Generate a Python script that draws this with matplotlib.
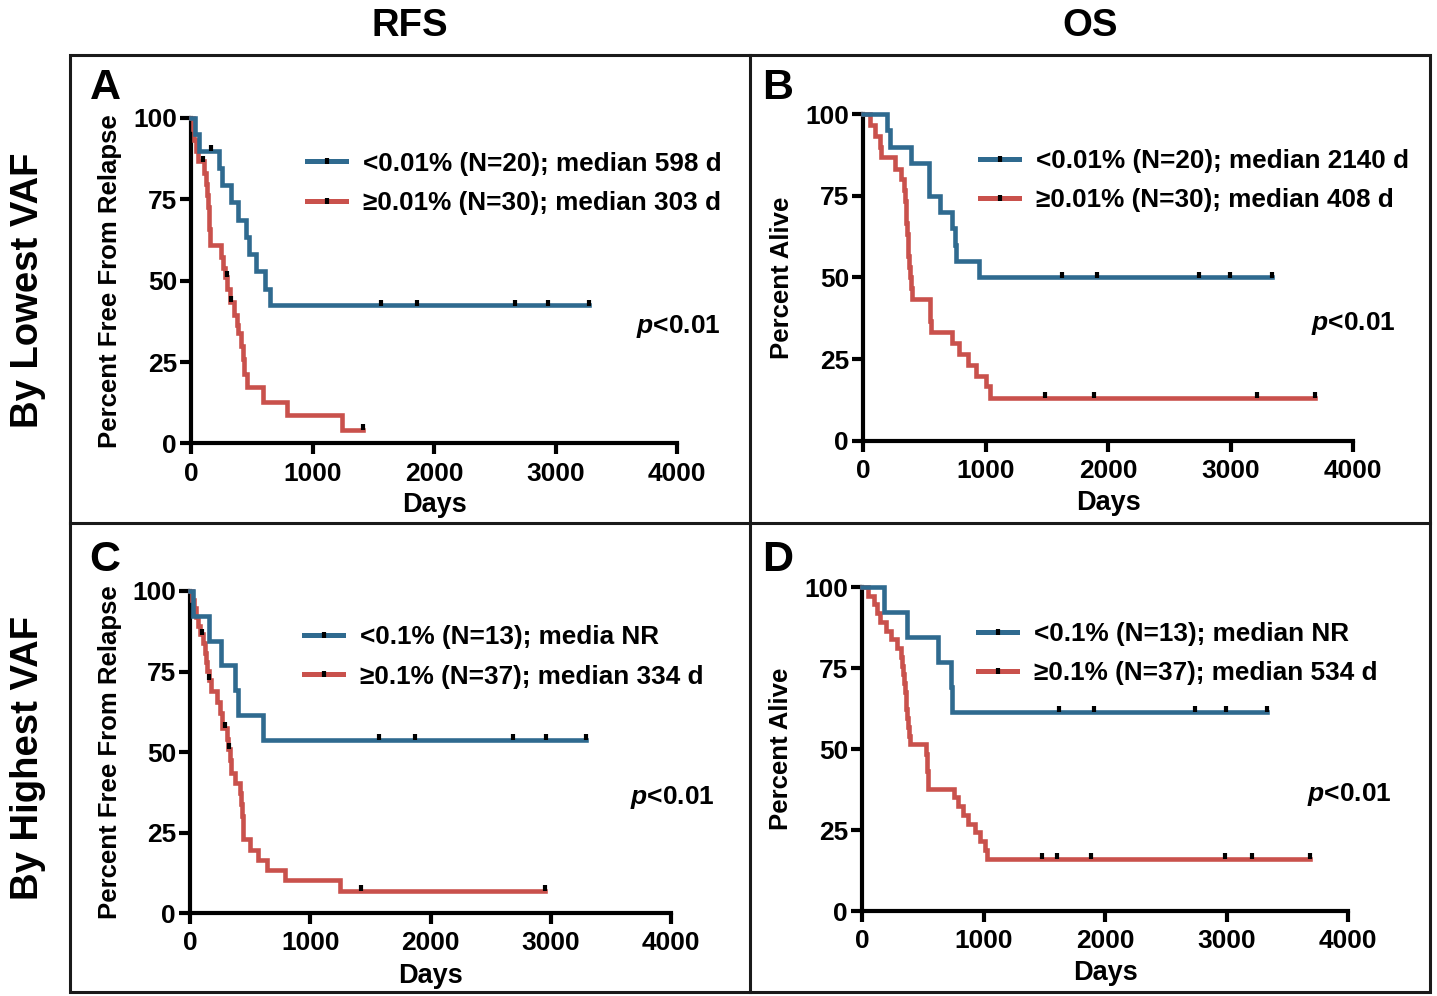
import numpy as np
import matplotlib
matplotlib.use('Agg')
import matplotlib.pyplot as plt
from matplotlib.lines import Line2D
from matplotlib.patches import Rectangle

plt.rcParams['font.family'] = ['Liberation Sans', 'DejaVu Sans']
plt.rcParams['font.weight'] = 'bold'
plt.rcParams['axes.labelweight'] = 'bold'
plt.rcParams['mathtext.fontset'] = 'custom'
plt.rcParams['mathtext.it'] = 'Liberation Sans:italic:bold'
plt.rcParams['mathtext.rm'] = 'Liberation Sans:bold'

BLUE = '#2f6a8f'
RED = '#c9514c'

# --- data (days, percent) ---
# A: RFS by lowest VAF
a_lo_t = [30, 62, 231, 256, 331, 388, 456, 477, 538, 607, 648]
a_lo_s = [95.0, 90.0, 84.7, 79.4, 74.1, 68.8, 63.5, 58.2, 52.9, 47.6, 42.4]
a_lo_cens = [161, 1564, 1858, 2670, 2940, 3275]
a_hi_t = [15, 25, 40, 60, 110, 120, 130, 138, 145, 150, 159, 245, 262, 280, 300, 318,
          357, 375, 390, 412, 425, 439, 458, 595, 787, 1240]
a_hi_s = [96.7, 93.3, 90.0, 86.7, 83.2, 79.7, 76.3, 72.8, 69.3, 65.9, 61.0, 57.2, 54.0,
          51.2, 47.5, 43.5, 39.5, 36.5, 34.0, 30.0, 26.0, 21.5, 17.4, 12.8, 8.7, 4.3]
a_hi_cens = [101, 294, 329, 1418]

# B: OS by lowest VAF
b_lo_t = [195, 219, 390, 538, 542, 625, 730, 752, 760, 950]
b_lo_s = [95, 90, 85, 80, 75, 70, 65, 60, 55, 50]
b_lo_cens = [1622, 1913, 2746, 2996, 3336]
b_hi_t = [57, 100, 138, 150, 260, 308, 335, 341, 347, 353, 359, 365, 371, 377, 383, 390,
          400, 545, 548, 552, 730, 784, 858, 926, 1001, 1036]
b_hi_s = [96.7, 93.3, 90.0, 86.7, 83.3, 80.0, 76.7, 73.3, 70.0, 66.7, 63.3, 60.0, 56.7,
          53.3, 50.0, 46.7, 43.3, 40.0, 36.7, 33.3, 30.0, 26.7, 23.3, 20.0, 16.7, 13.3]
b_hi_cens = [1486, 1888, 3214, 3690]

# C: RFS by highest VAF
c_lo_t = [23, 159, 260, 374, 399, 603]
c_lo_s = [92.3, 84.6, 76.9, 69.2, 61.5, 53.8]
c_lo_cens = [1574, 1874, 2689, 2960, 3293]
c_hi_t = [20, 35, 50, 70, 85, 110, 125, 135, 145, 155, 175, 222, 249, 265, 305, 315,
          335, 345, 374, 416, 425, 432, 438, 444, 499, 568, 638, 790, 1247]
c_hi_s = [97.3, 94.6, 91.9, 89.2, 86.5, 83.7, 80.9, 78.1, 75.3, 72.5, 69.0, 65.5, 62.0,
          57.5, 54.0, 51.0, 47.4, 43.5, 40.4, 37.3, 33.7, 30.0, 26.5, 23.0, 19.7, 16.6,
          13.5, 10.4, 6.9]
c_hi_cens = [100, 160, 291, 327, 1422, 2955]

# D: OS by highest VAF
d_lo_t = [183, 372, 625, 736, 740]
d_lo_s = [92.3, 84.6, 76.9, 69.2, 61.5]
d_lo_cens = [1621, 1909, 2741, 2993, 3331]
d_hi_t = [50, 100, 120, 145, 195, 240, 290, 322, 330, 338, 345, 352, 360, 366, 373, 380,
          387, 395, 530, 533, 536, 540, 545, 760, 793, 834, 875, 930, 971, 1012, 1030]
d_hi_s = [97.3, 94.6, 91.9, 89.2, 86.5, 83.8, 81.1, 78.4, 75.7, 73.0, 70.3, 67.6, 64.9,
          62.2, 59.5, 56.8, 54.1, 51.4, 48.6, 45.9, 43.2, 40.5, 37.8, 35.1, 32.4, 29.7,
          27.0, 24.3, 21.6, 18.9, 16.2]
d_hi_cens = [1479, 1602, 1882, 2988, 3207, 3687]

legend_a = ['<0.01% (N=20); median 598 d', '≥0.01% (N=30); median 303 d']
legend_b = ['<0.01% (N=20); median 2140 d', '≥0.01% (N=30); median 408 d']
legend_c = ['<0.1% (N=13); media NR', '≥0.1% (N=37); median 334 d']
legend_d = ['<0.1% (N=13); median NR', '≥0.1% (N=37); median 534 d']

W, H = 1437, 996
fig = plt.figure(figsize=(W / 100, H / 100), dpi=100)


def px(x0, y0, x1, y1):
    # pixel box -> figure fraction rect
    return [x0 / W, 1 - y1 / H, (x1 - x0) / W, (y1 - y0) / H]


def km(ax, t, s, cens, color):
    x = np.concatenate([[0], t, [max(cens[-1], t[-1])]])
    y = np.concatenate([[100], s, [s[-1]]])
    ax.step(x, y, where='post', color=color, lw=3.3, clip_on=False, zorder=3,
            solid_joinstyle='miter')
    idx = np.searchsorted(t, cens, side='right') - 1
    lev = np.where(idx >= 0, np.asarray(s)[np.clip(idx, 0, None)], 100)
    ax.plot(cens, lev + 0.8, ls='none', marker='|', ms=5, mew=3, color='k',
            clip_on=False, zorder=4)


panels = [
    # rect, ylabel, lo, hi, legend, legend anchor, letter, letter pos, xlabel y, ylabel x
    (px(191, 118, 677, 443.5), 'Percent Free From Relapse', (a_lo_t, a_lo_s, a_lo_cens),
     (a_hi_t, a_hi_s, a_hi_cens), legend_a, (0.239, 0.897), 'A', (105, 88), -0.148, -0.142),
    (px(863, 114, 1353, 441), 'Percent Alive', (b_lo_t, b_lo_s, b_lo_cens),
     (b_hi_t, b_hi_s, b_hi_cens), legend_b, (0.239, 0.894), 'B', (778, 88), -0.150, -0.141),
    (px(190, 591, 671, 913), 'Percent Free From Relapse', (c_lo_t, c_lo_s, c_lo_cens),
     (c_hi_t, c_hi_s, c_hi_cens), legend_c, (0.237, 0.893), 'C', (105, 560), -0.155, -0.142),
    (px(862, 587, 1348, 911), 'Percent Alive', (d_lo_t, d_lo_s, d_lo_cens),
     (d_hi_t, d_hi_s, d_hi_cens), legend_d, (0.239, 0.893), 'D', (778, 560), -0.150, -0.141),
]

for rect, ylab, lo, hi, labels, leg_xy, letter, lpos, xl, yl in panels:
    ax = fig.add_axes(rect)
    ax.patch.set_alpha(0)
    km(ax, *hi, RED)
    km(ax, *lo, BLUE)
    ax.set_xlim(0, 4000)
    ax.set_ylim(0, 100)
    ax.set_xticks([0, 1000, 2000, 3000, 4000])
    ax.set_yticks([0, 25, 50, 75, 100])
    for sp in ['top', 'right']:
        ax.spines[sp].set_visible(False)
    for sp in ['left', 'bottom']:
        ax.spines[sp].set_linewidth(3)
        ax.spines[sp].set_capstyle('projecting')
    ax.tick_params(width=3, length=8, labelsize=19)
    ax.tick_params(axis='x', pad=5)
    ax.tick_params(axis='y', pad=2)
    ax.set_xlabel('Days', fontsize=19.5)
    ax.xaxis.set_label_coords(0.5, xl)
    ax.set_ylabel(ylab, fontsize=18.5)
    ax.yaxis.set_label_coords(yl, 0.5)
    handles = [Line2D([], [], color=BLUE, lw=3.6, marker='|', ms=5, mew=3, mec='k'),
               Line2D([], [], color=RED, lw=3.6, marker='|', ms=5, mew=3, mec='k')]
    ax.legend(handles, labels, loc='upper left', bbox_to_anchor=leg_xy, frameon=False,
              fontsize=18.8, handlelength=1.5, handletextpad=0.65, labelspacing=0.58,
              borderpad=0, borderaxespad=0, numpoints=1)
    ax.text(0.915, 0.36, r'$p$<0.01', transform=ax.transAxes, fontsize=19,
            ha='left', va='center')
    fig.text(lpos[0] / W, 1 - lpos[1] / H, letter, fontsize=31, ha='center', va='center')

# outer frame and dividers
fig.add_artist(Rectangle((70 / W, 1 - 992 / H), 1360 / W, 937 / H, transform=fig.transFigure,
                         fill=False, lw=2.2, ec='#1a1a1a'))
fig.add_artist(Line2D([750 / W, 750 / W], [1 - 992 / H, 1 - 55 / H], transform=fig.transFigure,
                      lw=2.2, color='#1a1a1a'))
fig.add_artist(Line2D([70 / W, 1430 / W], [1 - 523 / H, 1 - 523 / H], transform=fig.transFigure,
                      lw=2.2, color='#1a1a1a'))

fig.text(410 / W, 1 - 26 / H, 'RFS', fontsize=27.5, ha='center', va='center')
fig.text(1090 / W, 1 - 26 / H, 'OS', fontsize=27.5, ha='center', va='center')
fig.text(28 / W, 1 - 290 / H, 'By Lowest VAF', fontsize=27.5, rotation=90,
         ha='center', va='center')
fig.text(28 / W, 1 - 758 / H, 'By Highest VAF', fontsize=27.5, rotation=90,
         ha='center', va='center')

fig.savefig('out.png', dpi=100)
